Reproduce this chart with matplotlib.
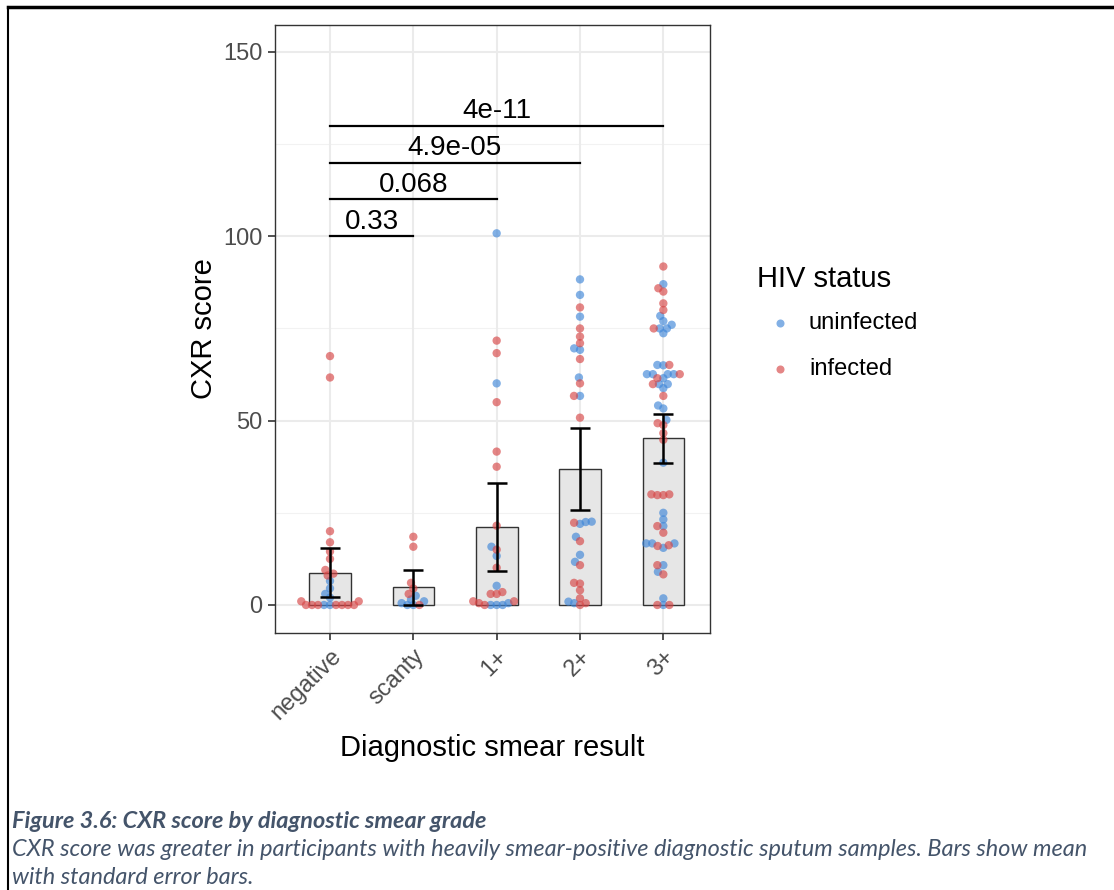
import matplotlib
matplotlib.use('Agg')
import matplotlib.pyplot as plt
import numpy as np
from matplotlib.lines import Line2D

plt.rcParams['font.family'] = ['Liberation Sans', 'DejaVu Sans']

grades = ['negative', 'scanty', '1+', '2+', '3+']

# CXR scores per participant, split by HIV status
neg_inf = [67.5, 61.7, 20.0, 17.0, 14.5, 12.5, 9.5, 8.5, 8.0, 1.0, 1.0, 0, 0, 0, 0, 0, 0, 0]
neg_uninf = [6.5, 4.5, 3.0, 2.0, 0, 0]
scanty_inf = [18.5, 15.8, 6.0, 4.5, 3.0, 0]
scanty_uninf = [2.5, 1.5, 1.0, 0.5, 0, 0]
one_inf = [71.7, 68.3, 55.0, 41.6, 37.5, 21.5, 15.0, 10.1, 3.5, 3.0, 3.0, 1.0, 1.0, 0.5, 0]
one_uninf = [100.8, 60.1, 15.8, 13.3, 5.2, 0.5, 0, 0, 0]
two_inf = [80.7, 75.0, 72.8, 71.0, 66.7, 60.1, 56.7, 50.8, 22.3, 17.3, 10.8, 6.0, 5.8,
           4.0, 1.8, 0.5, 0]
two_uninf = [88.3, 84.1, 78.2, 69.6, 69.2, 61.7, 56.7, 22.6, 22.5, 22.0, 18.5, 13.6, 11.7,
             0.9, 0.5]
three_inf = [91.8, 85.9, 85.0, 81.8, 80.0, 75.0, 65.1, 62.6, 61.5, 59.9, 56.7, 49.3, 48.8,
             46.6, 44.8, 30.0, 30.0, 29.8, 29.8, 21.4, 19.6, 16.2, 16.0, 10.8, 8.3, 0, 0]
three_uninf = [87.0, 78.4, 77.0, 76.0, 75.0, 75.0, 73.7, 65.1, 65.0, 62.6, 62.6, 62.6, 62.6,
               61.5, 59.9, 59.9, 58.8, 54.1, 53.3, 50.2, 38.6, 25.0, 23.2, 21.4, 16.7, 16.7,
               16.7, 15.5, 10.8, 9.0, 1.8, 0]

infected = [neg_inf, scanty_inf, one_inf, two_inf, three_inf]
uninfected = [neg_uninf, scanty_uninf, one_uninf, two_uninf, three_uninf]

# bar = mean, error bar bounds
bar_mean = [8.7, 4.9, 21.2, 36.9, 45.3]
err_low = [2.2, 0.0, 9.3, 25.8, 38.5]
err_high = [15.5, 9.5, 33.0, 48.0, 51.8]

# pairwise comparisons against "negative"
comp_to = [1, 2, 3, 4]
p_labels = ['0.33', '0.068', '4.9e-05', '4e-11']
bracket_y = [100, 110, 120, 130]

col_uninf = '#3f86d8'
col_inf = '#d64545'

W, H = 1114, 890
fig = plt.figure(figsize=(W / 100, H / 100), dpi=100)
ax = fig.add_axes([275 / W, 1 - 633 / H, 435 / W, 608 / H])
ax.set_xlim(-0.66, 4.56)
ax.set_ylim(-7.6, 157.3)

# grid, theme_bw style
for y in [25, 75, 125]:
    ax.axhline(y, color='#f2f2f2', lw=0.8, zorder=0)
for y in [0, 50, 100, 150]:
    ax.axhline(y, color='#ebebeb', lw=1.5, zorder=0)
for x in range(len(grades)):
    ax.axvline(x, color='#ebebeb', lw=1.5, zorder=0)

xpos = np.arange(len(grades))
ax.bar(xpos, bar_mean, width=0.5, color='#e6e6e6', edgecolor='#333333', linewidth=1.0, zorder=1)


def swarm(ys, sx, sy, d):
    order = np.argsort(ys, kind='stable')
    placed = []
    xs = np.zeros(len(ys))
    for i in order:
        y = ys[i] * sy
        cands = [0.0]
        for px, py in placed:
            dy = y - py
            if abs(dy) < d:
                dx = np.sqrt(d * d - dy * dy)
                cands += [px + dx, px - dx]
        cands.sort(key=lambda c: (abs(c), c))
        for c in cands:
            if all((c - px) ** 2 + (y - py) ** 2 >= d * d - 1e-6 for px, py in placed):
                break
        placed.append((c, y))
        xs[i] = c / sx
    return xs


sx = 435 / (4.56 + 0.66)
sy = 608 / (157.3 + 7.6)
for i in range(len(grades)):
    ys = np.array(uninfected[i] + infected[i], dtype=float)
    cols = [col_uninf] * len(uninfected[i]) + [col_inf] * len(infected[i])
    offs = swarm(ys, sx, sy, 6.0)
    ax.scatter(i + offs, ys, s=36, c=cols, alpha=0.65, linewidths=0, zorder=2)

ax.errorbar(xpos, bar_mean,
            yerr=[np.array(bar_mean) - np.array(err_low), np.array(err_high) - np.array(bar_mean)],
            fmt='none', ecolor='black', elinewidth=1.8, capsize=7, capthick=1.8, zorder=3)

for j, p, y in zip(comp_to, p_labels, bracket_y):
    ax.plot([0, j], [y, y], color='black', lw=1.6, zorder=3)
    ax.text(j / 2, y + 0.4, p, ha='center', va='bottom', fontsize=20, color='black')

ax.set_xticks(xpos)
ax.set_xticklabels(grades, rotation=45, ha='right', va='top', rotation_mode='anchor',
                   fontsize=17, color='#4d4d4d')
ax.set_yticks([0, 50, 100, 150])
ax.set_yticklabels(['0', '50', '100', '150'], fontsize=17, color='#4d4d4d')
ax.tick_params(axis='both', length=5, width=1.2, color='#333333', pad=4)
for s in ax.spines.values():
    s.set_color('#333333')
    s.set_linewidth(1.0)

ax.set_xlabel('Diagnostic smear result', fontsize=21, labelpad=7)
ax.set_ylabel('CXR score', fontsize=21, labelpad=4)

# legend drawn by hand
fig.text(757 / W, 1 - 279 / H, 'HIV status', fontsize=21, ha='left', va='center')
for lab, col, yy in [('uninfected', col_uninf, 323), ('infected', col_inf, 369)]:
    fig.add_artist(Line2D([780 / W], [1 - yy / H], marker='o', markersize=5.8, color=col,
                          alpha=0.65, markeredgewidth=0, transform=fig.transFigure))
    fig.text(809 / W, 1 - yy / H, lab, fontsize=17, ha='left', va='center')

# page border
fig.add_artist(Line2D([8 / W, 1], [1 - 7 / H, 1 - 7 / H], color='black', lw=2.5,
                      transform=fig.transFigure))
fig.add_artist(Line2D([8 / W, 8 / W], [0, 1 - 7 / H], color='black', lw=1.5,
                      transform=fig.transFigure))

cap_col = '#44546a'
cap_font = ['Lato', 'DejaVu Sans']
fig.text(12 / W, 1 - 821 / H, 'Figure 3.6: CXR score by diagnostic smear grade',
         fontsize=16.9, fontstyle='italic', fontweight='bold', color=cap_col,
         family=cap_font, va='center')
fig.text(12 / W, 1 - 849 / H,
         'CXR score was greater in participants with heavily smear-positive diagnostic sputum samples. Bars show mean',
         fontsize=16.9, fontstyle='italic', color=cap_col, family=cap_font, va='center')
fig.text(12 / W, 1 - 877 / H, 'with standard error bars.',
         fontsize=16.9, fontstyle='italic', color=cap_col, family=cap_font, va='center')

fig.savefig('out.png', dpi=100)
